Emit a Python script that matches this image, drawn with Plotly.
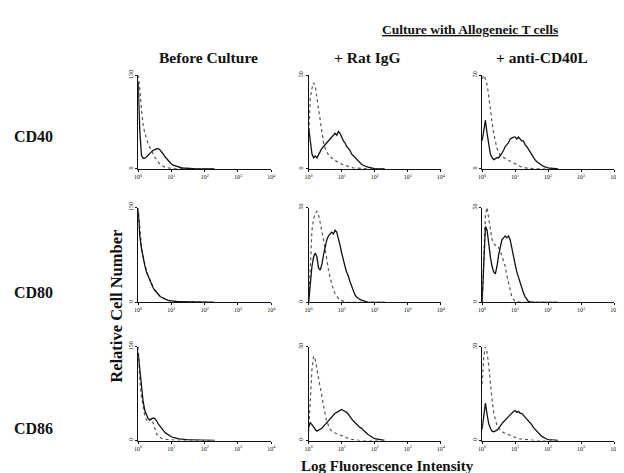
import plotly.graph_objects as go

# ---------------- data ----------------
LOG_BINS = [0.00, 0.05, 0.10, 0.15, 0.20, 0.25, 0.30, 0.35, 0.40, 0.45,
            0.50, 0.55, 0.60, 0.65, 0.70, 0.75, 0.80, 0.85, 0.90, 0.95,
            1.00, 1.05, 1.10, 1.15, 1.20, 1.25, 1.30, 1.35, 1.40, 1.45,
            1.50, 1.55, 1.60, 1.65, 1.70, 1.75, 1.80, 1.85, 1.90, 1.95,
            2.00, 2.30]

MARKERS = ["CD40", "CD80", "CD86"]
CONDITIONS = ["Before Culture", "+ Rat IgG", "+ anti-CD40L"]
Y_MAX = [150, 50, 50]
X_TICK_VALS = [1, 10, 100, 1000, 10000]
X_TICK_TEXT = ["10<sup>0</sup>", "10<sup>1</sup>", "10<sup>2</sup>", "10<sup>3</sup>", "10<sup>4</sup>"]

# CD40
cd40_before_ctrl = [150, 128, 95, 70, 58, 48, 40, 35, 29, 24, 19, 15, 11, 8, 6, 4, 3, 2, 1.5, 1,
                    0.8, 0.5, 0.4, 0.3, 0.2, 0.2, 0.2, 0.1, 0.1, 0.1, 0.1, 0.1, 0, 0, 0, 0, 0, 0, 0, 0, 0, 0]
cd40_before_ab = [140, 60, 22, 17, 17, 19, 22, 25, 28, 30, 31, 32, 33, 31, 28, 24, 20, 17, 13, 10,
                  8, 6, 5, 4, 3, 2.5, 2, 1.6, 1.3, 1, 0.8, 0.6, 0.5, 0.4, 0.3, 0.3, 0.2, 0.2, 0.1, 0.1, 0, 0]
cd40_rat_ctrl = [17, 38, 43, 46, 44, 38, 31, 25, 19, 14, 11, 9, 7.5, 6.5, 6, 5, 4.5, 4, 3.5, 3,
                 2.6, 2.2, 2, 1.6, 1.3, 1, 0.8, 0.6, 0.5, 0.4, 0.3, 0.2, 0.2, 0.1, 0.1, 0, 0, 0, 0, 0, 0, 0]
cd40_rat_ab = [22, 14, 8, 6, 7, 6, 8, 9, 11, 12, 13, 14, 15, 16, 17, 18, 19, 18, 20, 19,
               17, 15, 14, 12, 11, 10, 8, 7, 6, 5, 4, 3, 2.5, 2, 1.5, 1.2, 1, 0.8, 0.6, 0.4, 0.2, 0]
cd40_anti_ctrl = [48, 50, 48, 45, 39, 31, 25, 19, 15, 11, 9, 7, 6.5, 6, 5.5, 5, 4.5, 4, 3.5, 3,
                  2.6, 2.2, 1.8, 1.4, 1.1, 0.8, 0.6, 0.5, 0.4, 0.3, 0.2, 0.1, 0.1, 0, 0, 0, 0, 0, 0, 0, 0, 0]
cd40_anti_ab = [15, 22, 26, 19, 12, 8, 6, 5, 5.5, 6, 6, 7, 8.5, 10, 12, 13, 14, 16, 16.5, 17,
                17, 16, 17, 16, 15, 15, 13, 12, 10.5, 9, 8, 6.5, 5, 4, 3.3, 2.5, 2, 1.5, 1.1, 0.8, 0.6, 0]

# CD80
cd80_before_ctrl = [150, 112, 88, 72, 60, 50, 42, 35, 30, 24, 20, 16, 13, 10, 8, 6, 5, 3.5, 2.8, 2.2,
                    1.8, 1.5, 1.2, 1, 0.9, 0.8, 0.7, 0.7, 0.6, 0.6, 0.5, 0.5, 0.4, 0.4, 0.4, 0.3, 0.3, 0.3, 0.2, 0.2, 0.2, 0]
cd80_before_ab = [145, 105, 85, 70, 58, 48, 41, 34, 29, 23, 19, 16, 12, 10, 8, 6.5, 5, 4, 3, 2.5,
                  2, 1.6, 1.4, 1.2, 1, 0.9, 0.8, 0.8, 0.7, 0.7, 0.6, 0.6, 0.5, 0.5, 0.4, 0.4, 0.4, 0.3, 0.3, 0.3, 0.3, 0]
cd80_rat_ctrl = [0, 22, 38, 44, 47, 48, 46, 42, 38, 33, 28, 22, 17, 13, 9.5, 6.5, 4.5, 3, 2, 1.3,
                 0.8, 0.4, 0.2, 0, 0, 0, 0, 0, 0, 0, 0, 0, 0, 0, 0, 0, 0, 0, 0, 0, 0, 0]
cd80_rat_ab = [0, 10, 19, 24, 26, 24, 18, 17, 20, 25, 30, 33, 35, 36, 37, 36, 38, 37, 34, 30,
               26, 22, 19, 16, 14, 11, 8.5, 6, 4, 2.8, 2, 1.5, 1.2, 0.8, 0.4, 0.2, 0, 0, 0, 0, 0, 0]
cd80_anti_ctrl = [0, 25, 46, 50, 44, 37, 33, 31, 30, 30, 29, 27, 24, 22, 19, 14, 10, 6, 3, 1.5,
                  0.5, 0.2, 0, 0, 0, 0, 0, 0, 0, 0, 0, 0, 0, 0, 0, 0, 0, 0, 0, 0, 0, 0]
cd80_anti_ab = [0, 22, 40, 38, 30, 24, 19, 16, 15, 19, 25, 30, 33, 34, 35, 34, 35, 33, 28, 24,
                20, 16, 13, 10, 7.5, 5, 3, 1.5, 0.5, 0.2, 0, 0, 0, 0, 0, 0, 0, 0, 0, 0, 0, 0]

# CD86
cd86_before_ctrl = [150, 95, 70, 55, 40, 33, 30, 32, 35, 28, 18, 11, 7, 5, 3.5, 2.5, 2, 1.6, 1.3, 1,
                    0.8, 0.6, 0.5, 0.4, 0.3, 0.2, 0.2, 0.2, 0.1, 0.1, 0.1, 0.1, 0, 0, 0, 0, 0, 0, 0, 0, 0, 0]
cd86_before_ab = [140, 110, 85, 62, 48, 40, 35, 33, 34, 36, 35, 32, 27, 23, 19, 16, 13, 11, 9, 7.5,
                  6, 5, 4, 3.5, 3, 2.5, 2, 1.8, 1.5, 1.3, 1.1, 1, 0.9, 0.8, 0.7, 0.5, 0.4, 0.3, 0.2, 0.1, 0, 0]
cd86_rat_ctrl = [5, 22, 38, 45, 43, 38, 33, 27, 22, 18, 14, 10, 7.5, 6, 5, 4.3, 4, 3.6, 3.2, 2.8,
                 2.4, 2, 1.6, 1.3, 1, 0.8, 0.6, 0.4, 0.3, 0.2, 0.1, 0, 0, 0, 0, 0, 0, 0, 0, 0, 0, 0]
cd86_rat_ab = [7, 9.5, 8.5, 7, 6, 5, 5.5, 6, 6.5, 7.5, 8.5, 10, 11, 12, 13, 14, 14.5, 15, 15.5, 16,
               16.5, 16, 15.5, 15, 14, 12.5, 11.5, 10.5, 9.5, 8.5, 7.5, 7, 6.5, 5.5, 5, 4, 3.2, 2.5, 2, 1.5, 1, 0]
cd86_anti_ctrl = [30, 45, 50, 47, 40, 30, 22, 15, 11, 8, 6.5, 5.5, 4.8, 4.2, 3.8, 3.4, 3, 2.6, 2.2, 1.8,
                  1.5, 1.2, 1, 0.8, 0.7, 0.5, 0.4, 0.3, 0.2, 0.1, 0.1, 0, 0, 0, 0, 0, 0, 0, 0, 0, 0, 0]
cd86_anti_ab = [6, 14, 20, 14, 9, 6.5, 5, 4.6, 5, 5.5, 6.5, 8, 9, 10, 11, 12, 13, 13.5, 14.5, 15.5,
                16, 15, 15.5, 14.5, 14.5, 13.5, 12.5, 12, 10.5, 9.5, 8.5, 7, 6, 5, 4, 3, 2.3, 1.8, 1.2, 0.8, 0.5, 0]

PANELS = [
    [(cd40_before_ctrl, cd40_before_ab), (cd40_rat_ctrl, cd40_rat_ab), (cd40_anti_ctrl, cd40_anti_ab)],
    [(cd80_before_ctrl, cd80_before_ab), (cd80_rat_ctrl, cd80_rat_ab), (cd80_anti_ctrl, cd80_anti_ab)],
    [(cd86_before_ctrl, cd86_before_ab), (cd86_rat_ctrl, cd86_rat_ab), (cd86_anti_ctrl, cd86_anti_ab)],
]

# ---------------- layout ----------------
W, H = 624, 473
COL_PX = [(128, 263), (301, 435), (477, 611)]
ROW_PX = [(63, 158), (197, 293), (338, 433)]


def px_x(p):
    return p / W


def px_y(p):
    return 1 - p / H


FONT = "Liberation Serif"
fig = go.Figure()
x_vals = [10 ** v for v in LOG_BINS]

layout = {}
n = 0
for r in range(3):
    for c in range(3):
        n += 1
        suffix = "" if n == 1 else str(n)
        ctrl, ab = PANELS[r][c]
        xa = "x" + suffix
        ya = "y" + suffix
        fig.add_trace(go.Scatter(x=x_vals, y=ctrl, xaxis=xa, yaxis=ya, mode="lines",
                                 line=dict(color="#555555", width=1.2, dash="dot"),
                                 showlegend=False, hoverinfo="skip"))
        fig.add_trace(go.Scatter(x=x_vals, y=ab, xaxis=xa, yaxis=ya, mode="lines",
                                 line=dict(color="#111111", width=1.3),
                                 showlegend=False, hoverinfo="skip"))
        ymax = Y_MAX[c]
        layout["xaxis" + suffix] = dict(
            domain=[px_x(COL_PX[c][0]), px_x(COL_PX[c][1])], anchor=ya,
            type="log", range=[0, 4], tickvals=X_TICK_VALS, ticktext=X_TICK_TEXT,
            tickfont=dict(size=6, family=FONT, color="#111"), ticks="outside", ticklen=2,
            tickcolor="#111", showline=True, linecolor="#111", linewidth=1,
            showgrid=False, zeroline=False, fixedrange=True)
        layout["yaxis" + suffix] = dict(
            domain=[px_y(ROW_PX[r][1]), px_y(ROW_PX[r][0])], anchor=xa,
            range=[0, ymax], tickvals=[0, ymax], ticktext=["0", str(ymax)], tickangle=-90,
            tickfont=dict(size=6, family=FONT, color="#111"), ticks="outside", ticklen=2,
            tickcolor="#111", showline=True, linecolor="#111", linewidth=1,
            showgrid=False, zeroline=False, fixedrange=True)

annotations = [
    dict(text="<b><u>Culture with Allogeneic T cells</u></b>", x=px_x(465), y=px_y(17),
         font=dict(size=13.5, family=FONT, color="#111")),
    dict(text="<b>" + CONDITIONS[0] + "</b>", x=px_x(199), y=px_y(45),
         font=dict(size=15.5, family=FONT, color="#111")),
    dict(text="<b>" + CONDITIONS[1] + "</b>", x=px_x(361), y=px_y(45),
         font=dict(size=15.5, family=FONT, color="#111")),
    dict(text="<b>" + CONDITIONS[2] + "</b>", x=px_x(538), y=px_y(45),
         font=dict(size=15.5, family=FONT, color="#111")),
    dict(text="<b>Relative Cell Number</b>", x=px_x(106), y=px_y(297), textangle=-90,
         font=dict(size=16.5, family=FONT, color="#111")),
    dict(text="<b>Log Fluorescence Intensity</b>", x=px_x(381), y=px_y(459),
         font=dict(size=15, family=FONT, color="#111")),
]
for i, lab in enumerate(MARKERS):
    yc = [125, 283, 421][i]
    annotations.append(dict(text="<b>" + lab + "</b>", x=px_x(22), y=px_y(yc),
                            font=dict(size=16, family=FONT, color="#111")))
for a in annotations:
    a.update(xref="paper", yref="paper", showarrow=False, xanchor="center", yanchor="middle")

fig.update_layout(width=W, height=H, margin=dict(l=0, r=0, t=0, b=0),
                  paper_bgcolor="white", plot_bgcolor="white",
                  annotations=annotations, **layout)

fig.write_html("out.html")
